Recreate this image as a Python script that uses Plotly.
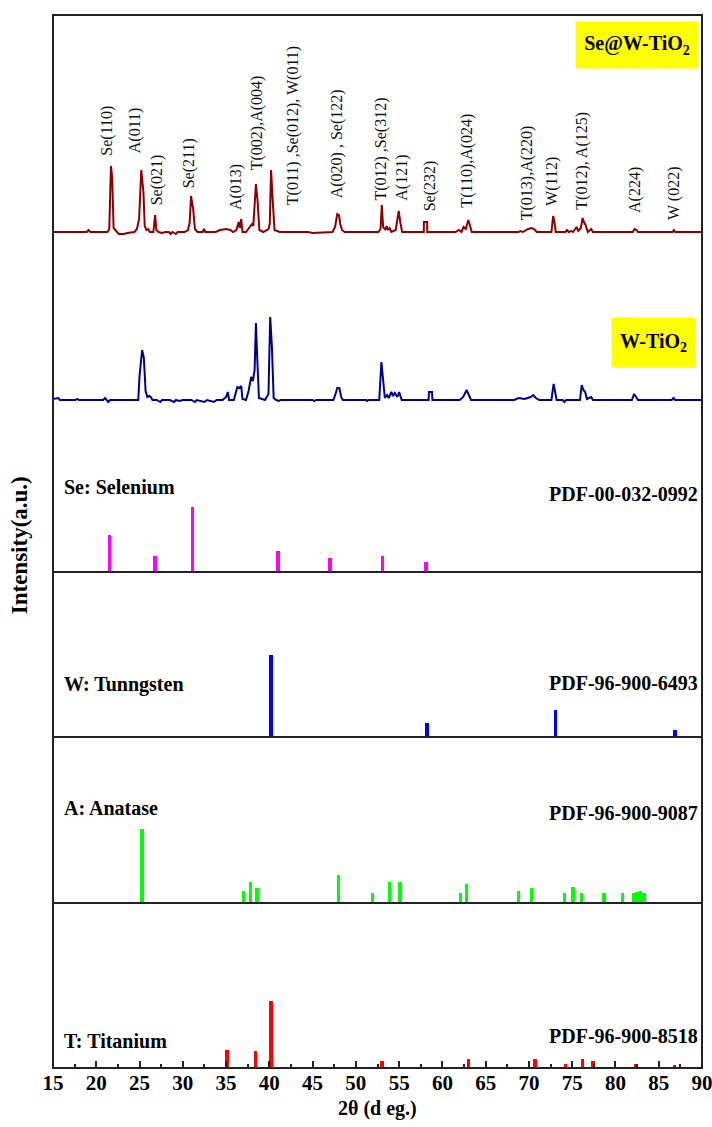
import plotly.graph_objects as go

# ---------------- data ----------------
# Se@W-TiO2 measured pattern (2theta, intensity a.u.)
tt_sew = [15.0, 16.0, 18.9, 19.1, 19.3, 21.3, 21.5, 21.7, 21.85, 22.0, 22.3, 22.6, 23.2, 23.6, 24.4, 24.7,
          24.95, 25.2, 25.45, 25.6, 25.8, 26.0, 26.2, 26.6, 26.8, 26.95, 27.2, 27.6, 28.0, 28.4, 28.6, 28.8,
          29.2, 29.4, 30.2, 30.6, 30.8, 30.95, 31.2, 31.4, 31.7, 32.3, 32.45, 32.6, 33.8, 34.3, 35.0, 35.5,
          35.8, 36.2, 36.45, 36.6, 36.75, 36.9, 37.3, 37.8, 38.0, 38.15, 38.45, 38.65, 38.85, 39.3, 39.9,
          40.05, 40.2, 40.4, 40.6, 41.2, 43.0, 44.5, 45.0, 46.5, 47.3, 47.6, 47.85, 48.05, 48.2, 48.4, 48.7,
          51.0, 52.6, 52.85, 53.0, 53.15, 53.4, 53.55, 53.7, 53.9, 54.1, 54.6, 54.75, 54.95, 55.15, 55.35,
          57.5, 57.85, 57.86, 58.24, 58.25, 61.5, 61.9, 62.2, 62.45, 62.7, 63.0, 63.2, 63.4, 68.8, 69.0,
          69.3, 69.9, 70.3, 70.6, 70.9, 72.6, 72.8, 72.95, 73.1, 74.2, 74.4, 74.6, 74.9, 75.1, 75.5, 75.7,
          76.0, 76.2, 76.35, 76.55, 76.8, 77.2, 77.4, 82.0, 82.2, 82.45, 82.6, 86.6, 86.75, 86.9, 90.0]
int_sew = [0, 0, 0, 20, 0, 0, 30, 660, 530, 40, 10, -20, -20, -10, 0, 30,
           130, 620, 400, 60, 20, 30, 0, 0, 170, 20, 0, -10, 0, 0, -20, 0,
           -20, 0, 0, 20, 100, 360, 230, 30, 0, 0, 30, 0, 0, 20, 30, 20,
           0, 20, 100, 40, 130, 0, 0, 50, 80, 60, 480, 300, 20, 0, 30,
           80, 620, 300, 20, 0, 0, 0, -10, 0, 0, 50, 180, 170, 80, 20, 0,
           0, 0, 30, 270, 50, 20, 60, 20, 40, 0, 20, 120, 210, 90, 0,
           0, 0, 100, 100, 0, 0, 20, 0, 50, 30, 120, 50, 0, 0, 10,
           0, 30, 40, 30, 0, 0, 160, 100, 0, 0, 20, 0, 10, 0, 50, 10,
           40, 140, 100, 70, 0, 30, 0, 0, 30, 20, 0, 0, 20, 0, 0]

# W-TiO2 measured pattern
tt_wt = [15.0, 15.6, 15.8, 17.6, 17.8, 18.0, 20.8, 21.0, 21.2, 21.4, 21.6, 24.85, 25.0, 25.3, 25.5, 25.7,
         25.9, 26.1, 26.3, 26.5, 27.0, 27.4, 27.6, 28.5, 29.0, 29.2, 29.6, 30.0, 31.0, 31.4, 31.6, 32.5,
         32.8, 33.6, 33.9, 34.6, 35.0, 35.2, 35.35, 35.9, 36.3, 36.5, 36.75, 36.9, 37.3, 37.6, 37.9, 38.1,
         38.3, 38.45, 38.6, 38.8, 39.5, 39.9, 40.1, 40.3, 40.5, 40.8, 41.1, 41.3, 45.0, 45.2, 45.4, 47.4,
         47.65, 47.85, 48.1, 48.3, 48.5, 51.2, 51.3, 51.5, 52.7, 52.95, 53.15, 53.35, 53.6, 53.8, 54.1,
         54.3, 54.5, 54.8, 55.0, 55.3, 58.4, 58.45, 58.8, 58.85, 62.0, 62.4, 62.8, 63.1, 63.3, 68.3, 68.8,
         69.5, 70.2, 70.5, 70.8, 71.2, 72.6, 72.85, 73.0, 73.2, 73.9, 74.1, 74.3, 75.9, 76.1, 76.3, 76.5,
         76.7, 77.2, 77.4, 81.9, 82.15, 82.4, 82.6, 86.5, 86.7, 86.9, 90.0]
int_wt = [10, 20, 0, 0, 10, 0, 0, 20, 0, -20, 0, 0, 240, 500, 420, 90,
          30, 40, 30, 0, 0, -20, 0, 0, -20, 0, -10, 0, 0, -20, 0, -20,
          0, -20, 0, 0, 30, 80, 0, 0, 130, 120, 140, 10, 0, 90, 230, 190,
          300, 770, 420, 20, 0, 60, 830, 530, 20, 0, -10, 0, 0, -10, 0, 0,
          60, 120, 120, 30, 0, 0, -10, 0, 0, 380, 200, 20, 50, 20, 80,
          40, 70, 30, 80, 0, 0, 80, 80, 0, 0, 30, 100, 40, 0, 0, 20,
          10, 30, 50, 20, 0, 0, 160, 80, 0, 0, -20, 0, 0, 150, 100, 80,
          10, 30, 0, 0, 60, 30, 0, 0, 20, 0, 0]

# Reference stick patterns (relative intensity, %)
se_pos = [21.5, 26.8, 31.1, 41.0, 47.0, 53.1, 58.1]
se_int = [57, 25, 100, 32, 21, 24, 15]

w_pos = [40.2, 58.2, 73.1, 86.9]
w_int = [100, 17, 33, 9]

a_pos = [25.3, 37.0, 37.8, 38.6, 48.0, 51.9, 53.9, 55.1, 62.1, 62.8, 68.8, 70.3, 74.1, 75.1, 76.1,
         78.7, 80.8, 82.1, 82.5, 82.9, 83.3]
a_int = [100, 16, 28, 20, 37, 13, 28, 28, 14, 26, 16, 20, 14, 22, 14, 13, 14, 13, 15, 16, 14]

t_pos = [35.1, 38.4, 40.2, 53.0, 63.0, 70.7, 74.2, 76.2, 77.4, 82.3, 86.8]
t_int = [27, 26, 100, 10, 13, 13, 6, 14, 11, 6, 5]

# peak labels for the Se@W-TiO2 pattern: text, 2theta, label bottom (a.u.)
peak_labels = ["Se(110)", "A(011)", "Se(021)", "Se(211)", "A(013)", "T(002),A(004)",
               "T(011) ,Se(012), W(011)", "A(020) , Se(122)", "T(012) ,Se(312)", "A(121)",
               "Se(232)", "T(110),A(024)", "T(013),A(220)", "W(112)", "T(012), A(125)",
               "A(224)", "W (022)"]
peak_label_x = [21.2, 24.5, 27.0, 30.75, 36.15, 38.55, 42.7, 47.8, 52.8, 55.3, 58.55, 62.8,
                69.75, 72.6, 76.1, 82.25, 86.7]
peak_label_y = [740, 770, 250, 420, 200, 600, 250, 320, 290, 290, 190, 220, 100, 240, 200, 170, 100]

x_ticks = [15, 20, 25, 30, 35, 40, 45, 50, 55, 60, 65, 70, 75, 80, 85, 90]

# ---------------- layout helpers ----------------
W, H = 712, 1127
L, R, T, B = 53, 702, 15, 1068
FONT = "Liberation Serif"


def py(ypx):
    return (B - ypx) / (B - T)


def px(xpx):
    return (xpx - L) / (R - L)


fig = go.Figure()

fig.add_trace(go.Scatter(x=tt_sew, y=int_sew, mode="lines", line=dict(color="#8B0000", width=2),
                         yaxis="y6", showlegend=False))
fig.add_trace(go.Scatter(x=tt_wt, y=int_wt, mode="lines", line=dict(color="#00008B", width=2),
                         yaxis="y5", showlegend=False))

for pos, inten, col, ax in [(se_pos, se_int, "#FF00FF", "y4"), (w_pos, w_int, "#0000FF", "y3"),
                            (a_pos, a_int, "#00FF00", "y2"), (t_pos, t_int, "#FF0000", "y")]:
    fig.add_trace(go.Bar(x=pos, y=inten, width=0.4, marker=dict(color=col, line=dict(width=0)),
                         yaxis=ax, showlegend=False))

yhide = dict(visible=False, showgrid=False, zeroline=False, fixedrange=True)

fig.update_layout(
    width=W, height=H,
    margin=dict(l=L, r=W - R, t=T, b=H - B),
    paper_bgcolor="white", plot_bgcolor="white",
    barmode="overlay", bargap=0,
    font=dict(family=FONT, color="black"),
    xaxis=dict(range=[15, 90], tickvals=x_ticks, ticks="inside", ticklen=7, tickwidth=1.5,
               tickcolor="#222", showgrid=False, zeroline=False, showline=False, anchor="y",
               ticklabeloverflow="allow", automargin=False,
               tickfont=dict(family=FONT, size=21, color="black", weight="bold"),
               minor=dict(dtick=2.5, tick0=15, ticks="inside", ticklen=4, tickwidth=1.5,
                          tickcolor="#222", showgrid=False)),
    yaxis=dict(domain=[0, py(903)], range=[0, 246], **yhide),
    yaxis2=dict(domain=[py(903), py(737)], range=[0, 223], **yhide),
    yaxis3=dict(domain=[py(737), py(572)], range=[0, 201], **yhide),
    yaxis4=dict(domain=[py(572), py(407)], range=[0, 254], **yhide),
    yaxis5=dict(domain=[py(407), py(240)], range=[-70, 1600], **yhide),
    yaxis6=dict(domain=[py(240), 1], range=[-80, 2170], **yhide),
)

shapes = [dict(type="rect", xref="paper", yref="paper", x0=0, x1=1, y0=0, y1=1,
               line=dict(color="#222", width=2), layer="above")]
for ysep in (572, 737, 903):
    shapes.append(dict(type="line", xref="paper", yref="paper", x0=0, x1=1, y0=py(ysep), y1=py(ysep),
                       line=dict(color="#222", width=2), layer="above"))
fig.update_layout(shapes=shapes)

ann = []
for txt, xx, yy in zip(peak_labels, peak_label_x, peak_label_y):
    ann.append(dict(text=txt, x=xx, y=yy, xref="x", yref="y6", textangle=-90, xanchor="center",
                    yanchor="bottom", showarrow=False, font=dict(family=FONT, size=16, color="#111")))

# sample tags
ann.append(dict(text="Se@W-TiO<sub>2</sub>", x=px(637), y=py(45), xref="paper", yref="paper",
                xanchor="center", yanchor="middle",
                showarrow=False, bgcolor="#FFFF00", width=118, height=42, borderpad=2,
                font=dict(family=FONT, size=20, color="black", weight="bold")))
ann.append(dict(text="W-TiO<sub>2</sub>", x=px(653.5), y=py(342.5), xref="paper", yref="paper",
                xanchor="center", yanchor="middle",
                showarrow=False, bgcolor="#FFFF00", width=79, height=45, borderpad=2,
                font=dict(family=FONT, size=20, color="black", weight="bold")))

# reference names and card numbers
for name, card, yn, yc in [("Se: Selenium", "PDF-00-032-0992", 487, 494),
                           ("W: Tunngsten", "PDF-96-900-6493", 684, 683),
                           ("A: Anatase", "PDF-96-900-9087", 808, 813),
                           ("T: Titanium", "PDF-96-900-8518", 1041, 1036)]:
    ann.append(dict(text=name, x=px(62), y=py(yn), xref="paper", yref="paper", xanchor="left",
                    yanchor="middle", showarrow=False,
                    font=dict(family=FONT, size=20, color="black", weight="bold")))
    ann.append(dict(text=card, x=px(700), y=py(yc), xref="paper", yref="paper", xanchor="right",
                    yanchor="middle", showarrow=False,
                    font=dict(family=FONT, size=20, color="black", weight="bold")))

# axis titles
ann.append(dict(text="Intensity(a.u.)", x=-0.052, y=py(545), xref="paper", yref="paper",
                textangle=-90, showarrow=False, xanchor="center", yanchor="middle",
                font=dict(family=FONT, size=23, color="black", weight="bold")))
ann.append(dict(text="2θ (d eg.)", x=px(377), y=-(1108 - B) / (B - T), xref="paper", yref="paper",
                showarrow=False, xanchor="center", yanchor="middle",
                font=dict(family=FONT, size=20, color="black", weight="bold")))

fig.update_layout(annotations=ann)

fig.write_html("out.html")
